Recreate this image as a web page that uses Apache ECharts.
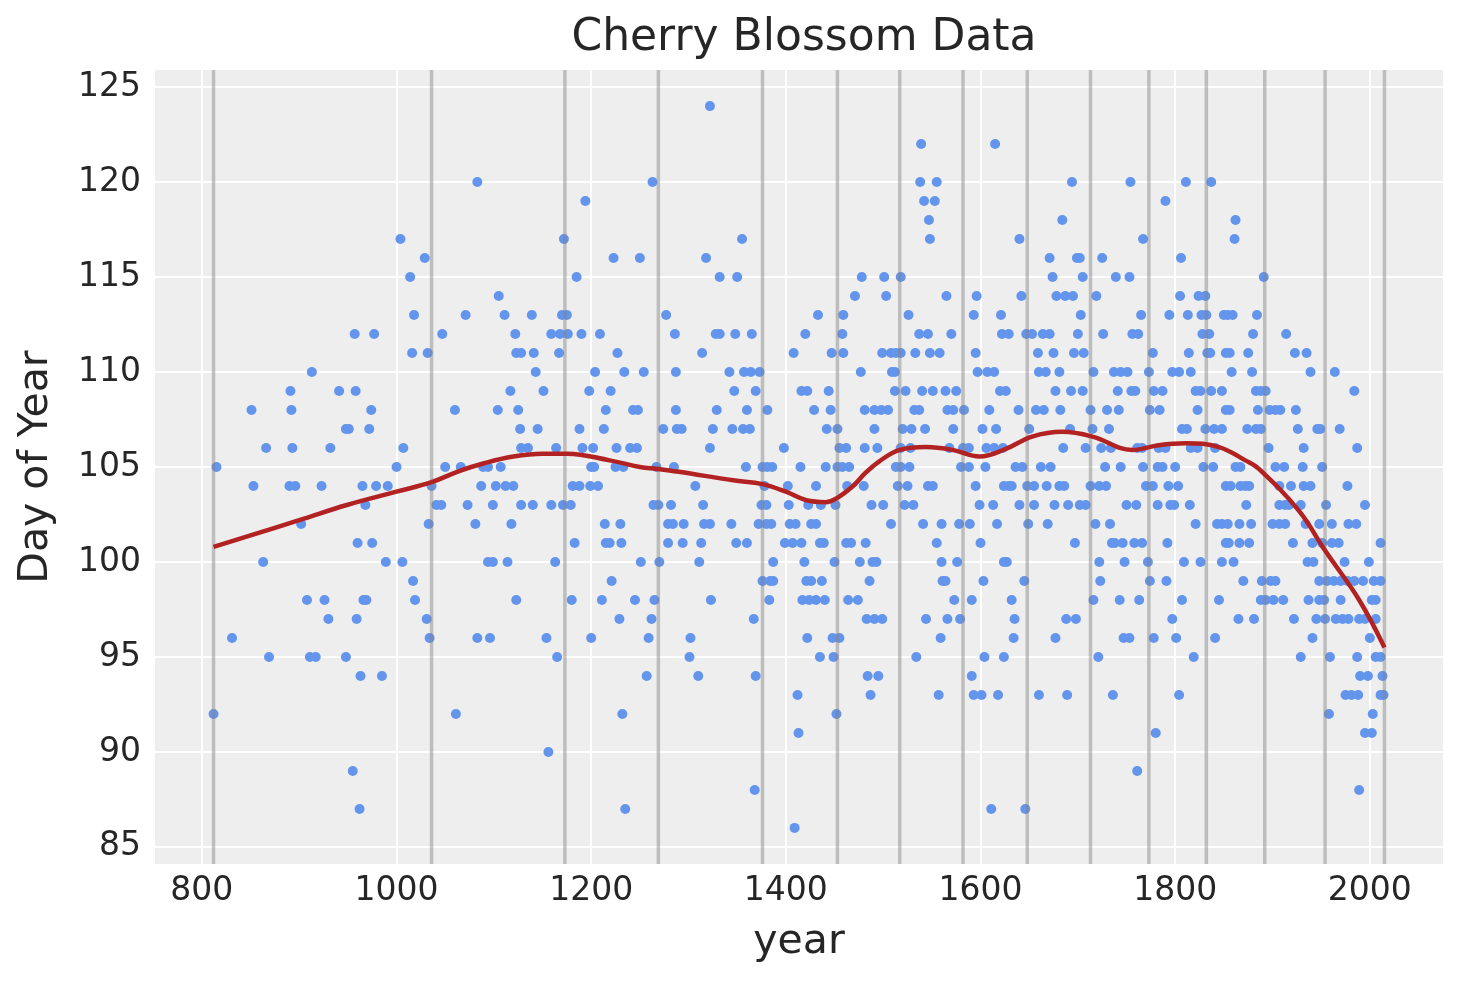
<!DOCTYPE html>
<html>
<head>
<meta charset="utf-8">
<script src="https://cdn.jsdelivr.net/npm/echarts@6/dist/echarts.min.js"></script>
<style>
html,body{margin:0;padding:0;background:#fff;}
#chart{width:1463px;height:983px;}
</style>
</head>
<body>
<div id="chart"></div>
<script>
// ---- data ----
const xTicks = [800, 1000, 1200, 1400, 1600, 1800, 2000];
const yTicks = [85, 90, 95, 100, 105, 110, 115, 120, 125];
const knots = [812, 1036, 1173, 1269, 1376, 1453, 1517, 1582, 1648, 1713, 1773, 1832, 1892, 1954, 2015];

const splineYears  = [812, 850, 900, 949, 1000, 1036, 1065, 1090, 1120, 1150, 1175, 1219, 1250, 1268, 1290, 1346, 1376, 1400, 1421, 1441, 1452, 1469, 1482, 1496, 1517, 1544, 1571, 1599, 1626, 1653, 1684, 1715, 1756, 1783, 1811, 1845, 1872, 1886, 1927, 1954, 1989, 2015];
const splineValues = [100.8, 101.4, 102.2, 103.0, 103.7, 104.2, 104.8, 105.2, 105.55, 105.7, 105.7, 105.35, 105.0, 104.9, 104.75, 104.3, 104.1, 103.7, 103.25, 103.15, 103.35, 104.0, 104.7, 105.3, 105.9, 106.05, 105.9, 105.55, 105.95, 106.6, 106.85, 106.6, 105.9, 106.15, 106.25, 106.05, 105.35, 104.9, 102.7, 100.6, 98.0, 95.5];

const blossomPoints = [
[913,110],[891,109],[941,109],[851,108],[892,108],[948,107],[866,106],[893,106],[932,106],[815,105],
[853,104],[890,104],[896,104],[923,104],[902,102],[863,100],[908,98],[926,98],[930,97],[831,96],[869,95],[911,95],[917,95],[948,95],[812,92],
[1083,120],[1004,117],[1029,116],[1014,115],[1172,117],[1105,114],[1018,113],[1071,113],[1111,113],[1139,113],[1170,113],[1175,113],
[957,112],[977,112],[1047,112],[1122,112],[1159,112],[1168,112],[1176,112],[1190,112],[1209,112],
[1016,111],[1032,111],[1123,111],[1128,111],[1141,111],[1167,111],[1143,110],
[958,109],[1117,109],[1151,109],[974,108],[1060,108],[1104,108],[1125,108],
[951,107],[972,107],[1127,107],[1145,107],[1007,106],[1128,106],[1135,106],[1164,106],
[1000,105],[1050,105],[1066,105],[1089,105],[1094,105],[1107,105],
[965,104],[979,104],[991,104],[1036,104],[1087,104],[1102,104],[1112,104],[1120,104],
[968,103],[1041,103],[1046,103],[1073,103],[1099,103],[1128,103],[1140,103],[1159,103],[1171,103],
[1033,102],[1081,102],[1118,102],[960,101],[975,101],[989,100],[1006,100],[1094,100],[1099,100],[1114,100],[1163,100],
[1017,99],[966,98],[969,98],[1019,98],[1123,98],[959,97],[1031,97],[1034,96],[1083,96],[1096,96],[1154,96],[1165,95],
[963,94],[985,94],[1061,92],[1156,90],[955,89],[962,87],
[1322,124],[1263,120],[1194,119],[1355,117],[1223,116],[1250,116],[1318,116],[1185,115],[1332,115],[1350,115],
[1277,113],[1286,112],[1328,112],[1332,112],[1348,112],[1365,112],[1227,111],[1314,111],
[1204,110],[1234,110],[1254,110],[1287,110],[1342,110],[1357,110],[1364,110],[1373,110],
[1198,109],[1220,109],[1347,109],[1369,109],
[1215,108],[1243,108],[1248,108],[1287,108],[1329,108],[1360,108],[1381,108],
[1188,107],[1213,107],[1274,107],[1288,107],[1293,107],[1325,107],[1345,107],[1356,107],[1363,107],
[1191,106],[1202,106],[1226,106],[1240,106],[1247,106],[1322,106],[1398,106],
[1200,105],[1203,105],[1225,105],[1233,105],[1267,105],[1285,105],[1359,105],[1376,105],[1381,105],[1386,105],
[1181,104],[1188,104],[1199,104],[1207,104],[1307,104],[1378,104],[1402,104],
[1179,103],[1264,103],[1269,103],[1282,103],[1315,103],[1375,103],[1380,103],[1403,103],
[1214,102],[1230,102],[1279,102],[1284,102],[1295,102],[1316,102],[1322,102],[1344,102],[1372,102],[1380,102],[1385,102],
[1183,101],[1215,101],[1219,101],[1231,101],[1279,101],[1294,101],[1313,101],[1349,101],[1360,101],[1399,101],
[1251,100],[1270,100],[1311,100],[1387,100],
[1221,99],[1376,99],[1384,99],[1387,99],
[1180,98],[1211,98],[1245,98],[1265,98],[1323,98],[1383,98],
[1229,97],[1262,97],[1367,97],[1200,96],[1259,96],[1302,96],[1301,95],[1257,94],[1310,94],[1369,94],[1232,92],[1368,88],[1235,87],
[1539,122],[1615,122],[1538,120],[1555,120],[1542,119],[1553,119],[1547,118],[1548,117],
[1478,115],[1501,115],[1518,115],[1471,114],[1503,114],[1565,114],[1596,114],
[1433,113],[1459,113],[1526,113],[1593,113],[1621,113],
[1420,112],[1458,112],[1537,112],[1546,112],[1570,112],[1622,112],
[1408,111],[1447,111],[1459,111],[1499,111],[1508,111],[1513,111],[1518,111],[1533,111],[1548,111],[1558,111],[1595,111],
[1477,110],[1509,110],[1512,110],[1597,110],[1607,110],[1614,110],
[1416,109],[1422,109],[1444,109],[1512,109],[1523,109],[1540,109],[1551,109],[1564,109],[1575,109],[1620,109],
[1429,108],[1446,108],[1481,108],[1491,108],[1498,108],[1505,108],[1532,108],[1537,108],[1566,108],[1572,108],[1583,108],[1609,108],
[1442,107],[1453,107],[1491,107],[1520,107],[1529,107],[1543,107],[1572,107],[1602,107],[1616,107],
[1455,106],[1462,106],[1481,106],[1494,106],[1518,106],[1528,106],[1568,106],[1582,106],[1588,106],[1606,106],[1614,106],[1623,106],
[1415,105],[1441,105],[1453,105],[1458,105],[1465,105],[1513,105],[1518,105],[1527,105],[1580,105],[1588,105],[1605,105],
[1431,104],[1463,104],[1480,104],[1515,104],[1525,104],[1546,104],[1551,104],[1595,104],[1624,104],
[1423,103],[1436,103],[1451,103],[1488,103],[1500,103],[1522,103],[1531,103],[1599,103],[1613,103],
[1404,102],[1410,102],[1426,102],[1431,102],[1508,102],[1541,102],[1560,102],[1578,102],[1589,102],[1617,102],
[1407,101],[1416,101],[1435,101],[1439,101],[1462,101],[1467,101],[1482,101],[1555,101],[1600,101],
[1419,100],[1450,100],[1476,100],[1489,100],[1493,100],[1560,100],[1576,100],[1624,100],
[1421,99],[1426,99],[1437,99],[1486,99],[1561,99],[1564,99],[1603,99],
[1417,98],[1424,98],[1431,98],[1440,98],[1464,98],[1474,98],[1573,98],[1591,98],
[1483,97],[1491,97],[1499,97],[1544,97],[1566,97],[1579,97],
[1422,96],[1448,96],[1455,96],[1559,96],
[1435,95],[1449,95],[1534,95],[1604,95],[1624,95],
[1484,94],[1495,94],[1591,94],
[1412,93],[1487,93],[1557,93],[1593,93],[1601,93],[1618,93],
[1452,92],[1413,91],[1611,87],[1409,86],
[1694,120],[1754,120],[1811,120],[1837,120],[1790,119],[1684,118],[1640,117],[1767,117],
[1671,116],[1699,116],[1702,116],[1725,116],[1806,116],
[1674,115],[1705,115],[1739,115],[1753,115],
[1642,114],[1678,114],[1687,114],[1695,114],[1719,114],[1805,114],[1824,114],[1831,114],
[1703,113],[1765,113],[1794,113],[1813,113],[1827,113],[1832,113],[1850,113],
[1629,112],[1647,112],[1653,112],[1664,112],[1671,112],[1700,112],[1726,112],[1756,112],[1762,112],[1828,112],[1835,112],
[1659,111],[1675,111],[1696,111],[1706,111],[1777,111],[1814,111],[1833,111],[1836,111],[1852,111],
[1660,110],[1667,110],[1681,110],[1716,110],[1737,110],[1744,110],[1751,110],[1773,110],[1797,110],[1804,110],[1816,110],
[1626,109],[1677,109],[1693,109],[1705,109],[1741,109],[1755,109],[1759,109],[1778,109],[1787,109],[1821,109],[1826,109],[1837,109],[1848,109],
[1639,108],[1657,108],[1665,108],[1682,108],[1713,108],[1730,108],[1742,108],[1774,108],[1784,108],[1823,108],[1852,108],
[1650,107],[1692,107],[1715,107],[1732,107],[1807,107],[1812,107],[1831,107],[1840,107],[1848,107],
[1685,106],[1708,106],[1724,106],[1734,106],[1761,106],[1766,106],[1783,106],[1790,106],[1816,106],[1823,106],[1841,106],
[1636,105],[1643,105],[1662,105],[1672,105],[1728,105],[1744,105],[1767,105],[1782,105],[1787,105],[1800,105],[1829,105],[1839,105],
[1629,104],[1632,104],[1648,104],[1655,104],[1668,104],[1681,104],[1686,104],[1713,104],[1722,104],[1729,104],[1770,104],[1777,104],[1793,104],[1803,104],[1852,104],
[1640,103],[1655,103],[1676,103],[1690,103],[1702,103],[1708,103],[1750,103],[1760,103],[1782,103],[1795,103],[1799,103],[1815,103],
[1649,102],[1669,102],[1718,102],[1733,102],[1821,102],[1843,102],[1848,102],
[1697,101],[1735,101],[1738,101],[1746,101],[1758,101],[1766,101],[1792,101],[1852,101],
[1627,100],[1722,100],[1748,100],[1772,100],[1809,100],[1826,100],[1848,100],
[1645,99],[1723,99],[1774,99],[1791,99],
[1632,98],[1716,98],[1743,98],[1763,98],[1807,98],[1845,98],
[1635,97],[1688,97],[1698,97],[1797,97],
[1634,96],[1677,96],[1747,96],[1753,96],[1778,96],[1801,96],[1841,96],
[1721,95],[1819,95],
[1660,93],[1689,93],[1736,93],[1804,93],[1780,91],[1761,89],[1646,87],
[1862,118],[1861,117],[1891,115],[1854,113],[1859,113],[1884,113],[1880,112],[1914,112],
[1856,111],[1875,111],[1923,111],[1935,111],
[1858,110],[1879,110],[1939,110],[1964,110],
[1883,109],[1888,109],[1893,109],[1984,109],
[1856,108],[1885,108],[1897,108],[1903,108],[1908,108],[1924,108],
[1874,107],[1883,107],[1888,107],[1926,107],[1946,107],[1949,107],[1969,107],
[1896,106],[1932,106],[1987,106],
[1862,105],[1867,105],[1903,105],[1912,105],[1931,105],[1951,105],
[1857,104],[1867,104],[1872,104],[1876,104],[1907,104],[1919,104],[1932,104],[1939,104],[1977,104],
[1873,103],[1907,103],[1913,103],[1917,103],[1929,103],[1955,103],[1995,103],
[1854,102],[1866,102],[1878,102],[1900,102],[1907,102],[1913,102],[1934,102],[1948,102],[1961,102],[1978,102],[1986,102],
[1855,101],[1866,101],[1876,101],[1921,101],[1941,101],[1951,101],[1961,101],[1968,101],[2011,101],
[1860,100],[1936,100],[1942,100],[1974,100],[1999,100],
[1870,99],[1889,99],[1898,99],[1903,99],[1948,99],[1956,99],[1963,99],[1970,99],[1977,99],[1984,99],[1993,99],[2004,99],[2011,99],
[1888,98],[1893,98],[1901,98],[1911,98],[1937,98],[1948,98],[1953,98],[1970,98],[2002,98],[2006,98],
[1865,97],[1881,97],[1922,97],[1945,97],[1954,97],[1965,97],[1972,97],[1978,97],[1989,97],[1995,97],[2006,97],
[1941,96],[2000,96],
[1929,95],[1959,95],[1987,95],[2006,95],[2011,95],
[1990,94],[1998,94],[2013,94],
[1975,93],[1981,93],[1988,93],[2011,93],[2014,93],
[1958,92],[2003,92],[1995,91],[2002,91],[1989,88]
];

const X_MIN = 751.85, X_MAX = 2075.15, Y_MIN = 84.1, Y_MAX = 125.9;
const FONT = '"DejaVu Sans", sans-serif';
const TXT = '#262626';

const chart = echarts.init(document.getElementById('chart'), null, {renderer: 'canvas'});
chart.setOption({
  animation: false,
  backgroundColor: '#ffffff',
  title: {
    text: 'Cherry Blossom Data',
    left: 799,
    textAlign: 'center',
    top: 12,
    textStyle: {fontFamily: FONT, fontSize: 44, fontWeight: 'normal', color: TXT}
  },
  grid: {left: 155, right: 20, top: 70, bottom: 119, show: true, backgroundColor: '#eeeeee', borderWidth: 0},
  xAxis: {
    type: 'value', min: X_MIN, max: X_MAX,
    name: 'year', nameLocation: 'middle', nameGap: 58,
    nameTextStyle: {fontFamily: FONT, fontSize: 41, color: TXT},
    axisLine: {show: false},
    axisTick: {show: false, customValues: xTicks},
    axisLabel: {customValues: xTicks, formatter: v => String(Math.round(v)), fontFamily: FONT, fontSize: 33, color: TXT, margin: 11},
    splitLine: {show: true, lineStyle: {color: '#ffffff', width: 2}}
  },
  yAxis: {
    type: 'value', min: Y_MIN, max: Y_MAX,
    name: 'Day of Year', nameLocation: 'middle', nameGap: 98,
    nameTextStyle: {fontFamily: FONT, fontSize: 41, color: TXT},
    axisLine: {show: false},
    axisTick: {show: false, customValues: yTicks},
    axisLabel: {customValues: yTicks, formatter: v => String(Math.round(v)), fontFamily: FONT, fontSize: 33, color: TXT, margin: 14},
    splitLine: {show: true, lineStyle: {color: '#ffffff', width: 2}}
  },
  series: [
    {
      type: 'scatter', z: 2,
      data: blossomPoints,
      symbol: 'circle', symbolSize: 10,
      itemStyle: {color: '#6495ED', opacity: 1},
      silent: true
    },
    {
      type: 'custom', z: 3, silent: true,
      data: knots,
      renderItem: function (params, api) {
        const k = api.value(0);
        const p0 = api.coord([k, Y_MIN]);
        const p1 = api.coord([k, Y_MAX]);
        return {
          type: 'line',
          shape: {x1: p0[0], y1: p0[1], x2: p1[0], y2: p1[1]},
          style: {stroke: 'rgba(128,128,128,0.45)', lineWidth: 3.5}
        };
      },
      encode: {x: 0}
    },
    {
      type: 'line', z: 4, silent: true,
      data: splineYears.map((yr, i) => [yr, splineValues[i]]),
      showSymbol: false, smooth: 0.4,
      lineStyle: {color: '#B22222', width: 4.5}
    }
  ]
});
</script>
</body>
</html>
